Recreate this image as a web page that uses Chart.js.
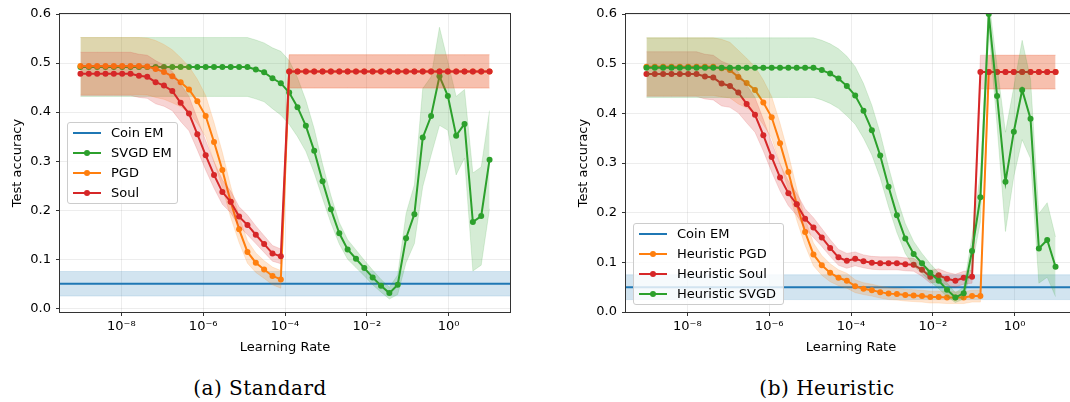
<!DOCTYPE html>
<html>
<head>
<meta charset="utf-8">
<script src="https://cdn.jsdelivr.net/npm/chart.js@4.4.1/dist/chart.umd.min.js"></script>
<style>
body { margin:0; width:1070px; height:402px; overflow:hidden; background:#fff; position:relative; font-family:'DejaVu Sans'; }
.panel { position:absolute; top:0; width:530px; height:360px; }
.legend { position:absolute; background:rgba(255,255,255,0.8); border:1px solid #ccc; border-radius:3px; box-sizing:border-box; }
.row { position:absolute; left:0; right:0; height:20px; font-size:13px; line-height:20px; color:#000; white-space:nowrap; }
.handle { position:absolute; left:5px; top:9px; width:28px; height:2px; }
.dot { position:absolute; left:16px; top:7px; width:6px; height:6px; border-radius:50%; }
.label { position:absolute; left:43px; top:0; }
.caption { position:absolute; top:376px; font-family:'DejaVu Serif'; font-size:20px; letter-spacing:0.5px; line-height:24px; transform:translateX(-50%); white-space:nowrap; color:#000; }
</style>
</head>
<body>
<div class="panel" style="left:0"><canvas id="standard" width="530" height="360"></canvas></div>
<div class="panel" style="left:566px"><canvas id="heuristic" width="530" height="360"></canvas></div>
<div class="caption" style="left:260px">(a) Standard</div>
<div class="caption" style="left:827px">(b) Heuristic</div>
<script>
// learning rates, log10 (50 values from 1e-9 to 1e1)
const lrExp = [
  -9.000, -8.796, -8.592, -8.388, -8.184, -7.980, -7.776, -7.571, -7.367, -7.163,
  -6.959, -6.755, -6.551, -6.347, -6.143, -5.939, -5.735, -5.531, -5.327, -5.122,
  -4.918, -4.714, -4.510, -4.306, -4.102, -3.898, -3.694, -3.490, -3.286, -3.082,
  -2.878, -2.673, -2.469, -2.265, -2.061, -1.857, -1.653, -1.449, -1.245, -1.041,
  -0.837, -0.633, -0.429, -0.224, -0.020, 0.184, 0.388, 0.592, 0.796, 1.000
];
const xRange = [-9.5, 1.5];
const xTicks = [1e-8, 1e-6, 1e-4, 1e-2, 1];
const xTickLabels = ['10⁻⁸', '10⁻⁶', '10⁻⁴', '10⁻²', '10⁰'];
const yTicks = [0, 0.1, 0.2, 0.3, 0.4, 0.5, 0.6];

const coinEM = 0.05;
const coinEMStd = 0.025;

// (a) Standard
const svgdEM = [
  .492, .492, .492, .492, .492, .492, .492, .492, .492, .492,
  .492, .492, .492, .492, .492, .492, .492, .492, .492, .492,
  .492, .487, .481, .469, .459, .440, .410, .372, .321, .259,
  .202, .153, .120, .101, .082, .063, .046, .031, .048, .143,
  .192, .348, .392, .473, .433, .352, .376, .176, .188, .303
];
const svgdEMStd = [
  .06, .06, .06, .06, .06, .06, .06, .06, .06, .06,
  .06, .06, .06, .06, .06, .06, .06, .06, .06, .06,
  .06, .06, .06, .062, .065, .065, .06, .052, .045, .035,
  .028, .022, .02, .018, .016, .015, .013, .012, .02, .05,
  .06, .10, .08, .10, .07, .08, .07, .10, .10, .10
];
const pgd = [
  .494, .494, .494, .494, .494, .494, .494, .494, .493, .488,
  .482, .473, .461, .446, .422, .392, .339, .282, .217, .161,
  .115, .093, .079, .066, .059, .483, .483, .483, .483, .483,
  .483, .483, .483, .483, .483, .483, .483, .483, .483, .483,
  .483, .483, .483, .483, .483, .483, .483, .483, .483, .483
];
const pgdStd = [
  .058, .058, .058, .058, .058, .058, .058, .058, .058, .058,
  .056, .054, .05, .047, .045, .042, .04, .036, .032, .027,
  .023, .02, .018, .018, .018, .034, .034, .034, .034, .034,
  .034, .034, .034, .034, .034, .034, .034, .034, .034, .034,
  .034, .034, .034, .034, .034, .034, .034, .034, .034, .034
];
const soul = [
  .478, .478, .478, .478, .478, .478, .478, .474, .472, .461,
  .454, .443, .419, .397, .355, .312, .272, .237, .217, .187,
  .170, .150, .131, .112, .106, .483, .483, .483, .483, .483,
  .483, .483, .483, .483, .483, .483, .483, .483, .483, .483,
  .483, .483, .483, .483, .483, .483, .483, .483, .483, .483
];
const soulStd = [
  .044, .044, .044, .044, .044, .044, .044, .044, .044, .044,
  .042, .04, .038, .035, .032, .03, .027, .025, .022, .02,
  .02, .018, .017, .016, .015, .034, .034, .034, .034, .034,
  .034, .034, .034, .034, .034, .034, .034, .034, .034, .034,
  .034, .034, .034, .034, .034, .034, .034, .034, .034, .034
];

// (b) Heuristic
const hPgd = [
  .494, .494, .494, .494, .494, .494, .494, .494, .494, .491,
  .487, .473, .461, .447, .422, .392, .340, .282, .217, .161,
  .116, .094, .079, .069, .063, .052, .047, .044, .040, .037,
  .036, .034, .033, .032, .030, .030, .029, .029, .029, .032,
  .032, .483, .483, .483, .483, .483, .483, .483, .483, .483
];
const hPgdStd = [
  .058, .058, .058, .058, .058, .058, .058, .058, .058, .058,
  .056, .054, .05, .047, .045, .042, .04, .036, .032, .027,
  .023, .02, .018, .016, .015, .013, .012, .012, .012, .012,
  .012, .012, .012, .012, .012, .012, .012, .012, .012, .012,
  .012, .034, .034, .034, .034, .034, .034, .034, .034, .034
];
const hSoul = [
  .479, .479, .479, .479, .479, .479, .479, .474, .472, .460,
  .455, .442, .419, .397, .356, .312, .271, .239, .217, .188,
  .170, .150, .129, .110, .103, .107, .102, .099, .098, .098,
  .098, .096, .095, .085, .071, .074, .067, .063, .069, .071,
  .483, .483, .483, .483, .483, .483, .483, .483, .483, .483
];
const hSoulStd = [
  .045, .045, .045, .045, .045, .045, .045, .045, .045, .045,
  .043, .041, .038, .035, .032, .03, .027, .025, .022, .02,
  .02, .018, .017, .016, .015, .014, .013, .013, .013, .013,
  .013, .013, .013, .013, .013, .013, .013, .013, .013, .013,
  .034, .034, .034, .034, .034, .034, .034, .034, .034, .034
];
const hSvgd = [
  .492, .492, .492, .492, .492, .492, .492, .492, .492, .492,
  .492, .492, .492, .492, .492, .492, .492, .492, .492, .492,
  .492, .487, .480, .470, .455, .436, .405, .366, .315, .252,
  .195, .148, .117, .098, .079, .063, .045, .029, .038, .123,
  .231, .600, .435, .262, .363, .447, .389, .128, .145, .091
];
const hSvgdStd = [
  .06, .06, .06, .06, .06, .06, .06, .06, .06, .06,
  .06, .06, .06, .06, .06, .06, .06, .06, .06, .06,
  .06, .06, .06, .06, .06, .058, .055, .05, .045, .04,
  .035, .03, .025, .02, .018, .016, .014, .01, .012, .03,
  .05, .03, .06, .10, .09, .10, .08, .07, .075, .06
];

const blue = '31,119,180';
const orange = '255,127,14';
const green = '44,160,44';
const red = '214,39,40';

function toPoints(vals, spread, sign) {
  return vals.map((v, i) => ({ x: Math.pow(10, lrExp[i]), y: v + sign * spread[i] }));
}

function bandSets(label, upper, lower, rgb) {
  return [
    { label: label + ' band', data: upper, borderColor: `rgba(${rgb},0.15)`, borderWidth: 1,
      backgroundColor: `rgba(${rgb},0.2)`, pointRadius: 0, fill: '+1' },
    { label: label + ' band low', data: lower, borderColor: `rgba(${rgb},0.15)`, borderWidth: 1,
      pointRadius: 0, fill: false }
  ];
}

function seriesSets(label, vals, spread, rgb) {
  const line = {
    label: label, data: toPoints(vals, spread, 0), borderColor: `rgb(${rgb})`, borderWidth: 2,
    pointRadius: 3, pointBorderWidth: 0, pointBackgroundColor: `rgb(${rgb})`, fill: false
  };
  return bandSets(label, toPoints(vals, spread, 1), toPoints(vals, spread, -1), rgb).concat([line]);
}

function coinSets() {
  const ends = xRange.map(e => Math.pow(10, e));
  const at = y => ends.map(x => ({ x: x, y: y }));
  const line = { label: 'Coin EM', data: at(coinEM), borderColor: `rgb(${blue})`, borderWidth: 2, pointRadius: 0, fill: false };
  return bandSets('Coin EM', at(coinEM + coinEMStd), at(coinEM - coinEMStd), blue).concat([line]);
}

function withOrder(list) {
  list.forEach((d, i) => { d.order = list.length - i; d.tension = 0; });
  return list;
}

const frame = {
  id: 'frame',
  afterDatasetsDraw(chart) {
    const a = chart.chartArea;
    const ctx = chart.ctx;
    ctx.save();
    ctx.strokeStyle = '#333';
    ctx.lineWidth = 1;
    ctx.strokeRect(a.left - 0.5, a.top - 0.5, a.right - a.left + 1, a.bottom - a.top + 1);
    ctx.restore();
  }
};

Chart.defaults.font.family = 'DejaVu Sans';
Chart.defaults.font.size = 13;
Chart.defaults.color = '#000';

function makeChart(id, datasets, yMin) {
  return new Chart(document.getElementById(id), {
    type: 'line',
    data: { datasets: withOrder(datasets) },
    options: {
      responsive: false,
      animation: false,
      events: [],
      layout: { padding: { left: 0, right: 20, top: 14, bottom: 0 } },
      plugins: { legend: { display: false }, tooltip: { enabled: false } },
      scales: {
        x: {
          type: 'logarithmic',
          min: Math.pow(10, xRange[0]),
          max: Math.pow(10, xRange[1]),
          afterBuildTicks: s => { s.ticks = xTicks.map(v => ({ value: v })); },
          afterFit: s => { s.height = 48; },
          ticks: { callback: (v, i) => xTickLabels[i], autoSkip: false, maxRotation: 0, padding: 3 },
          grid: { color: 'rgba(0,0,0,0.07)', tickColor: '#333', tickLength: 4 },
          border: { display: false },
          title: { display: true, text: 'Learning Rate', padding: { top: 0, bottom: 5 } }
        },
        y: {
          min: yMin,
          max: 0.6,
          afterBuildTicks: s => { s.ticks = yTicks.map(v => ({ value: v })); },
          afterFit: s => { s.width = 60; },
          ticks: { callback: v => v.toFixed(1), padding: 5 },
          grid: { color: 'rgba(0,0,0,0.07)', tickColor: '#333', tickLength: 4 },
          border: { display: false },
          title: { display: true, text: 'Test accuracy', padding: { top: 10, bottom: 0 } }
        }
      }
    },
    plugins: [frame]
  });
}

function addLegend(left, top, width, items) {
  const box = document.createElement('div');
  box.className = 'legend';
  box.style.left = left + 'px';
  box.style.top = top + 'px';
  box.style.width = width + 'px';
  box.style.height = (items.length * 20 + 2) + 'px';
  items.forEach((it, i) => {
    const row = document.createElement('div');
    row.className = 'row';
    row.style.top = (i * 20) + 'px';
    let html = `<span class="handle" style="background:rgb(${it.rgb})"></span>`;
    if (it.marker) html += `<span class="dot" style="background:rgb(${it.rgb})"></span>`;
    html += `<span class="label">${it.label}</span>`;
    row.innerHTML = html;
    box.appendChild(row);
  });
  document.body.appendChild(box);
}

makeChart('standard', coinSets()
  .concat(seriesSets('SVGD EM', svgdEM, svgdEMStd, green))
  .concat(seriesSets('PGD', pgd, pgdStd, orange))
  .concat(seriesSets('Soul', soul, soulStd, red)), -0.0075);

makeChart('heuristic', coinSets()
  .concat(seriesSets('Heuristic PGD', hPgd, hPgdStd, orange))
  .concat(seriesSets('Heuristic Soul', hSoul, hSoulStd, red))
  .concat(seriesSets('Heuristic SVGD', hSvgd, hSvgdStd, green)), 0);

addLegend(67, 122, 111, [
  { label: 'Coin EM', rgb: blue, marker: false },
  { label: 'SVGD EM', rgb: green, marker: true },
  { label: 'PGD', rgb: orange, marker: true },
  { label: 'Soul', rgb: red, marker: true }
]);
addLegend(633, 223, 151, [
  { label: 'Coin EM', rgb: blue, marker: false },
  { label: 'Heuristic PGD', rgb: orange, marker: true },
  { label: 'Heuristic Soul', rgb: red, marker: true },
  { label: 'Heuristic SVGD', rgb: green, marker: true }
]);
</script>
</body>
</html>
